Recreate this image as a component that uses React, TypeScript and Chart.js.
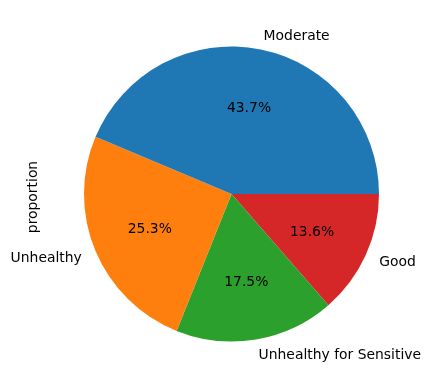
import React, { useEffect, useRef } from "react";
import { Chart, registerables } from "chart.js";

Chart.register(...registerables);

// Categories in matplotlib order (counter-clockwise from east)
const categories = ["Moderate", "Unhealthy", "Unhealthy for Sensitive", "Good"];
const proportions = [43.66, 25.27, 17.48, 13.59];
const colors = ["#1f77b4", "#ff7f0e", "#2ca02c", "#d62728"];
const yLabel = "proportion";

const FONT = "13.9px 'DejaVu Sans', sans-serif";
const DY = 1.5;

const labelPlugin = {
  id: "pieLabels",
  afterDraw(chart: any) {
    const ctx = chart.ctx;
    const meta = chart.getDatasetMeta(0);
    const data = chart.data.datasets[0].data as number[];
    const labels = chart.data.labels as string[];
    const total = data.reduce((a, b) => a + b, 0);
    ctx.save();
    ctx.font = FONT;
    ctx.fillStyle = "#000";
    ctx.textBaseline = "middle";
    meta.data.forEach((arc: any, i: number) => {
      const { startAngle, endAngle, x, y, outerRadius } = arc.getProps(
        ["startAngle", "endAngle", "x", "y", "outerRadius"],
        true
      );
      const mid = (startAngle + endAngle) / 2;
      const c = Math.cos(mid);
      const s = Math.sin(mid);
      // percentage
      ctx.textAlign = "center";
      const pct = ((data[i] / total) * 100).toFixed(1) + "%";
      ctx.fillText(pct, x + 0.6 * outerRadius * c, y + 0.6 * outerRadius * s + DY);
      // outer label
      const lx = x + 1.1 * outerRadius * c;
      const ly = y + 1.1 * outerRadius * s;
      ctx.textAlign = lx > x ? "left" : "right";
      ctx.fillText(labels[i], lx, ly + DY);
    });
    // y label
    ctx.translate(33.5, 197);
    ctx.rotate(-Math.PI / 2);
    ctx.textAlign = "center";
    ctx.fillText(yLabel, 0, 0);
    ctx.restore();
  },
};

export default function App() {
  const ref = useRef<HTMLCanvasElement>(null);
  useEffect(() => {
    document.body.style.margin = "0";
    const canvas = ref.current!;
    // Chart.js draws clockwise; reverse to mimic matplotlib counter-clockwise
    const labs = [...categories].reverse();
    const vals = [...proportions].reverse();
    const cols = [...colors].reverse();
    const chart = new Chart(canvas, {
      type: "pie",
      data: {
        labels: labs,
        datasets: [
          {
            data: vals,
            backgroundColor: cols,
            borderWidth: 0,
          },
        ],
      },
      options: {
        responsive: false,
        animation: false,
        rotation: 90,
        layout: { padding: { left: 84, right: 51, top: 46.5, bottom: 47.5 } },
        plugins: {
          legend: { display: false },
          tooltip: { enabled: false },
        },
      },
      plugins: [labelPlugin],
    });
    return () => chart.destroy();
  }, []);
  return (
    <div style={{ width: 430, height: 389, background: "#fff" }}>
      <canvas ref={ref} width={430} height={389} style={{ display: "block" }} />
    </div>
  );
}
